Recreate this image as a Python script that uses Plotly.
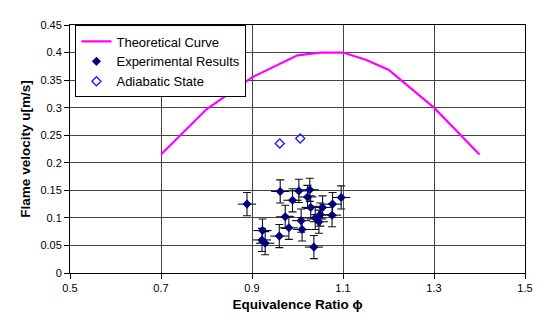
import plotly.graph_objects as go

# Theoretical curve
theo_phi = [0.7, 0.8, 0.9, 1.0, 1.05, 1.1, 1.15, 1.2, 1.3, 1.4]
theo_u = [0.215, 0.297, 0.355, 0.395, 0.400, 0.400, 0.387, 0.369, 0.300, 0.215]

# Experimental results
exp_phi = [0.889, 0.962, 1.003, 1.027, 0.989, 1.022, 1.029, 1.055, 1.077, 1.096,
           0.973, 0.923, 0.922, 0.929, 0.960, 0.981, 1.008, 1.010, 1.036, 1.039,
           1.047, 1.050, 1.076]
exp_u = [0.125, 0.148, 0.149, 0.151, 0.132, 0.138, 0.119, 0.119, 0.125, 0.137,
         0.102, 0.077, 0.060, 0.054, 0.067, 0.082, 0.095, 0.079, 0.047, 0.100,
         0.093, 0.106, 0.105]
exp_phi_err = [0.02] * len(exp_phi)
exp_u_err = [0.021] * len(exp_u)

# Adiabatic state
adi_phi = [0.961, 1.006]
adi_u = [0.235, 0.244]

x_ticks = [0.5, 0.7, 0.9, 1.1, 1.3, 1.5]
x_tick_labels = ["0.5", "0.7", "0.9", "1.1", "1.3", "1.5"]
y_ticks = [0, 0.05, 0.1, 0.15, 0.2, 0.25, 0.3, 0.35, 0.4, 0.45]
y_tick_labels = ["0", "0.05", "0.1", "0.15", "0.2", "0.25", "0.3", "0.35", "0.4", "0.45"]

FONT = "Liberation Sans, Arial, sans-serif"

fig = go.Figure()
fig.add_trace(go.Scatter(
    x=theo_phi, y=theo_u, mode="lines", name="Theoretical Curve",
    line=dict(color="#FF00FF", width=2.2)))
fig.add_trace(go.Scatter(
    x=exp_phi, y=exp_u, mode="markers", name="Experimental Results",
    marker=dict(symbol="diamond", color="#000080", size=7),
    error_x=dict(type="data", array=exp_phi_err, color="#111111", thickness=1.1, width=0),
    error_y=dict(type="data", array=exp_u_err, color="#111111", thickness=1.1, width=4)))
fig.add_trace(go.Scatter(
    x=adi_phi, y=adi_u, mode="markers", name="Adiabatic State",
    marker=dict(symbol="diamond-open", color="#1a1aff", size=7, line=dict(width=1.3))))

# page body has an 8px default margin; compensate so the plot sits where it should
fig.update_layout(
    width=539, height=320,
    margin=dict(l=62, r=22, t=11, b=55),
    paper_bgcolor="white", plot_bgcolor="white",
    font=dict(family=FONT, size=12, color="black"),
    showlegend=True,
    legend=dict(x=0.012, y=0.998, xanchor="left", yanchor="top",
                bgcolor="white", bordercolor="black", borderwidth=1,
                font=dict(family=FONT, size=13), tracegroupgap=0,
                itemwidth=30),
    xaxis=dict(range=[0.5, 1.5], tickvals=x_ticks, ticktext=x_tick_labels,
               showgrid=True, gridcolor="#444444", gridwidth=1,
               showline=True, linecolor="black", linewidth=1, mirror=True,
               ticks="outside", ticklen=5, tickcolor="black",
               tickfont=dict(size=11), zeroline=False,
               title=dict(text="<b>Equivalence Ratio ϕ</b>", font=dict(size=13.5), standoff=6)),
    yaxis=dict(range=[0, 0.45], tickvals=y_ticks, ticktext=y_tick_labels,
               showgrid=True, gridcolor="#444444", gridwidth=1,
               showline=True, linecolor="black", linewidth=1, mirror=True,
               ticks="outside", ticklen=5, tickcolor="black",
               tickfont=dict(size=11), zeroline=False,
               title=dict(text="<b>Flame velocity u[m/s]</b>", font=dict(size=13.5), standoff=6)),
)

fig.write_html("out.html")
